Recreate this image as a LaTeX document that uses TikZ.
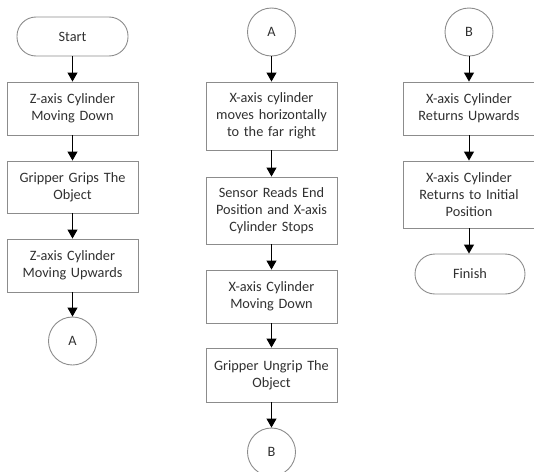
\documentclass[tikz,border=0pt]{standalone}
\usepackage{fontspec}
\setmainfont{Carlito}
\usetikzlibrary{arrows.meta}
\definecolor{txt}{HTML}{303030}
\definecolor{edge}{HTML}{8C8C8C}
\tikzset{
  base/.style={draw=edge, line width=0.9pt, text=txt, font=\fontsize{14.3}{17}\selectfont, align=center, inner sep=0pt},
  procbox/.style={base, rectangle, minimum width=131pt, text width=127pt},
  termbox/.style={base, rectangle, rounded corners=19pt, minimum width=111pt, minimum height=39pt},
  conn/.style={base, circle, minimum size=48pt},
  flow/.style={draw=black, line width=1pt, -{Triangle[width=10pt,length=9pt]}}
}
\begin{document}
\begin{tikzpicture}[x=1pt,y=-1pt]
\useasboundingbox (0,0) rectangle (534,471);
% column 1
\node[termbox] (start) at (72.5,36.5) {Start};
\node[procbox, minimum height=53pt] (z1) at (72.5,108.5) {Z-axis Cylinder\\Moving Down};
\node[procbox, minimum height=52pt] (g1) at (72.5,187) {Gripper Grips The\\Object};
\node[procbox, minimum height=53pt] (z2) at (72.5,265.5) {Z-axis Cylinder\\Moving Upwards};
\node[conn] (a1) at (72.5,341) {A};
% column 2
\node[conn] (a2) at (271.5,32) {A};
\node[procbox, minimum height=68pt] (x1) at (271.5,116) {X-axis cylinder\\moves horizontally\\to the far right};
\node[procbox, minimum height=67pt] (s1) at (271.5,210.5) {Sensor Reads End\\Position and X-axis\\Cylinder Stops};
\node[procbox, minimum height=53pt] (x2) at (271.5,296.5) {X-axis Cylinder\\Moving Down};
\node[procbox, minimum height=54pt] (g2) at (271.5,375) {Gripper Ungrip The\\Object};
\node[conn] (b1) at (271.5,452) {B};
% column 3
\node[conn] (b2) at (469,32) {B};
\node[procbox, minimum height=53pt] (r1) at (469,108.5) {X-axis Cylinder\\Returns Upwards};
\node[procbox, minimum height=67pt] (r2) at (469,194.5) {X-axis Cylinder\\Returns to Initial\\Position};
\node[termbox, minimum width=110pt, minimum height=40pt, rounded corners=20pt] (fin) at (470,274) {Finish};
% connectors
\draw[flow] (start) -- (z1);
\draw[flow] (z1) -- (g1);
\draw[flow] (g1) -- (z2);
\draw[flow] (z2) -- (a1);
\draw[flow] (a2) -- (x1);
\draw[flow] (x1) -- (s1);
\draw[flow] (s1) -- (x2);
\draw[flow] (x2) -- (g2);
\draw[flow] (g2) -- (b1);
\draw[flow] (b2) -- (r1);
\draw[flow] (r1) -- (r2);
\draw[flow] (r2.south) -- (r2.south |- fin.north);
\end{tikzpicture}
\end{document}
